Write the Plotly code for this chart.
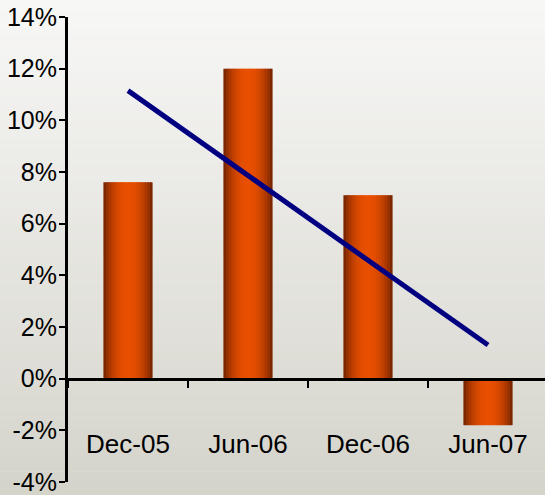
import numpy as np
import plotly.graph_objects as go

# data
periods = ["Dec-05", "Jun-06", "Dec-06", "Jun-07"]
growth = [7.6, 12.0, 7.1, -1.8]
trend_x = ["Dec-05", "Jun-07"]
trend_y = [11.15, 1.3]
y_ticks = [-4, -2, 0, 2, 4, 6, 8, 10, 12, 14]
y_labels = ["-4%", "-2%", "0%", "2%", "4%", "6%", "8%", "10%", "12%", "14%"]

fig = go.Figure()

# bars drawn as thin strips to fake the shaded cylinder look
n_strips = 18
bar_w = 0.41
step = bar_w / n_strips
dark = np.array([100, 30, 0])
bright = np.array([234, 80, 0])
for i in range(n_strips):
    t = (i + 0.5) / n_strips
    k = np.sin(np.pi * t) ** 0.7
    c = dark + (bright - dark) * k
    w = step * (1.6 if i < n_strips - 1 else 1.0)
    fig.add_trace(go.Bar(
        x=periods, y=growth,
        width=w,
        offset=-bar_w / 2 + i * step,
        marker=dict(color="rgb(%d,%d,%d)" % tuple(c), line=dict(width=0)),
        showlegend=False, hoverinfo="skip",
    ))

fig.add_trace(go.Scatter(x=trend_x, y=trend_y, mode="lines",
                         line=dict(color="#000080", width=5), showlegend=False))

# background gradient
n_bands = 60
top = np.array([248, 248, 247])
bot = np.array([212, 211, 202])
for j in range(n_bands):
    f = j / n_bands
    c = top + (bot - top) * f
    fig.add_shape(type="rect", xref="paper", yref="paper",
                  x0=-0.3, x1=1.1,
                  y0=1.05 - (j + 1) * 1.1 / n_bands - 0.001, y1=1.05 - j * 1.1 / n_bands,
                  fillcolor="rgb(%d,%d,%d)" % tuple(c), line=dict(width=0), layer="below")

fig.update_layout(
    width=545, height=495,
    margin=dict(l=68, r=0, t=17, b=13, autoexpand=False),
    barmode="overlay",
    paper_bgcolor="#f0f0ee",
    plot_bgcolor="rgba(0,0,0,0)",
    font=dict(family="Liberation Sans, Arial, sans-serif", size=24, color="black"),
    xaxis=dict(range=[-0.5, 3.475], anchor="free", position=4 / 18,
               showline=True, linecolor="black", linewidth=3,
               ticks="outside", tickson="boundaries", ticklen=7, tickwidth=2,
               tickcolor="black", ticklabelstandoff=41, showgrid=False,
               tickfont=dict(size=26),
               zeroline=False, automargin=False),
    yaxis=dict(range=[-4, 14], tickvals=y_ticks, ticktext=y_labels,
               showline=True, linecolor="black", linewidth=3,
               ticks="outside", ticklen=6, tickwidth=2, tickcolor="black",
               ticklabelstandoff=-3, ticklabeloverflow="allow",
               tickfont=dict(size=25),
               showgrid=False, zeroline=False, automargin=False),
)

# page body has a default margin that pushes the chart off the window
fig.write_html("out.html", config={"displayModeBar": False},
               post_script="document.body.style.margin='0';")
